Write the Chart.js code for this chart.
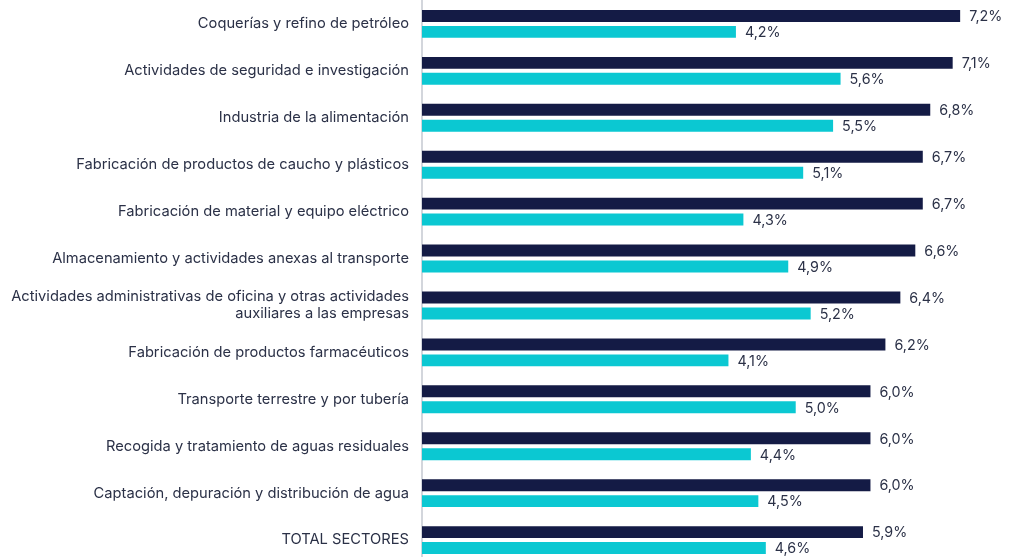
<!DOCTYPE html>
<html>
<head>
<meta charset="utf-8">
<script src="https://cdn.jsdelivr.net/npm/chart.js@4"></script>
<style>
  html, body { margin: 0; padding: 0; background: #fff; overflow: hidden; }
  #wrap { position: absolute; left: 0; top: -21.5px; width: 1016px; height: 606px; }
</style>
</head>
<body>
<div id="wrap"><canvas id="chart"></canvas></div>
<script>
// ─────────────────────────────────────────────
//  DATA
// ─────────────────────────────────────────────
const sectores = [
  'Coquerías y refino de petróleo',
  'Actividades de seguridad e investigación',
  'Industria de la alimentación',
  'Fabricación de productos de caucho y plásticos',
  'Fabricación de material y equipo eléctrico',
  'Almacenamiento y actividades anexas al transporte',
  ['Actividades administrativas de oficina y otras actividades', 'auxiliares a las empresas'],
  'Fabricación de productos farmacéuticos',
  'Transporte terrestre y por tubería',
  'Recogida y tratamiento de aguas residuales',
  'Captación, depuración y distribución de agua',
  'TOTAL SECTORES'
];
const serieOscura = [7.2, 7.1, 6.8, 6.7, 6.7, 6.6, 6.4, 6.2, 6.0, 6.0, 6.0, 5.9];
const serieCian   = [4.2, 5.6, 5.5, 5.1, 4.3, 4.9, 5.2, 4.1, 5.0, 4.4, 4.5, 4.6];

const NAVY = '#141b45';
const CYAN = '#0bc8d2';
const TEXT = '#2b3147';
const FONT = 'Inter, "Open Sans", sans-serif';

const fmt = v => v.toFixed(1).replace('.', ',') + '%';

// value labels at the end of each bar
const valueLabels = {
  id: 'valueLabels',
  afterDatasetsDraw(chart) {
    const ctx = chart.ctx;
    ctx.save();
    ctx.font = '14.3px ' + FONT;
    ctx.fillStyle = TEXT;
    ctx.textAlign = 'left';
    ctx.textBaseline = 'middle';
    chart.data.datasets.forEach((ds, i) => {
      chart.getDatasetMeta(i).data.forEach((bar, j) => {
        ctx.fillText(fmt(ds.data[j]), bar.x + 9, bar.y + 1);
      });
    });
    ctx.restore();
  }
};

new Chart(document.getElementById('chart'), {
  type: 'bar',
  data: {
    labels: sectores,
    datasets: [
      { data: serieOscura, backgroundColor: NAVY, barPercentage: 0.75, categoryPercentage: 0.68 },
      { data: serieCian, backgroundColor: CYAN, barPercentage: 0.75, categoryPercentage: 0.68 }
    ]
  },
  options: {
    indexAxis: 'y',
    responsive: true,
    maintainAspectRatio: false,
    animation: false,
    layout: { padding: { left: 0, right: 11, top: 0, bottom: 0 } },
    plugins: { legend: { display: false }, tooltip: { enabled: false } },
    scales: {
      x: { min: 0, max: 7.8, display: false },
      y: {
        afterFit: s => { s.width = 422; },
        grid: { display: false, drawTicks: false },
        border: { display: true, color: '#d3d6dc', width: 2 },
        ticks: {
          color: TEXT,
          padding: 13,
          font: { family: FONT, size: 14.7, lineHeight: 1.15 }
        }
      }
    }
  },
  plugins: [valueLabels]
});
</script>
</body>
</html>
